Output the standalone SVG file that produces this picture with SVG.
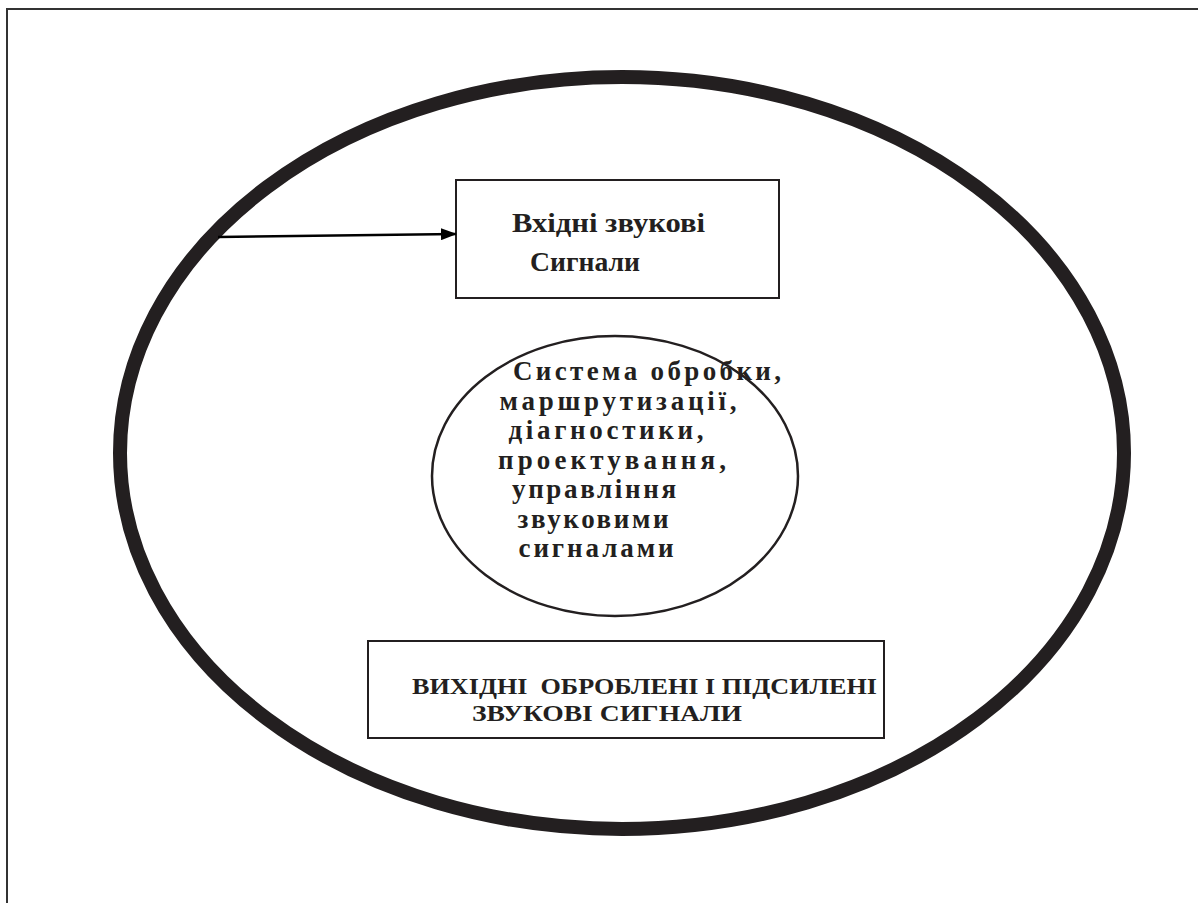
<svg xmlns="http://www.w3.org/2000/svg" width="1198" height="903" viewBox="0 0 1198 903">
<style>
.t{font-family:"Liberation Serif","Times New Roman",serif;font-weight:bold;fill:#231f20;}
.b{fill:#fff;stroke:#231f20;stroke-width:2;}
</style>
<defs>
<marker id="ah" markerWidth="16" markerHeight="12" refX="15" refY="6" orient="auto" markerUnits="userSpaceOnUse">
<path d="M0,0 L16,6 L0,12 Z" fill="#000"/>
</marker>
</defs>
<rect width="1198" height="903" fill="#fff"/>
<g id="frame">
<line x1="6" y1="9" x2="1198" y2="9" stroke="#333" stroke-width="2"/>
<line x1="7" y1="8" x2="7" y2="903" stroke="#333" stroke-width="2"/>
</g>
<g id="outer">
<ellipse cx="622" cy="453" rx="502" ry="376" fill="none" stroke="#231f20" stroke-width="14"/>
</g>
<g id="input">
<rect class="b" x="456" y="180" width="323" height="118"/>
<text class="t" font-size="27" x="512" y="232" textLength="193" lengthAdjust="spacingAndGlyphs">Вхідні звукові</text>
<text class="t" font-size="27" x="530" y="271" textLength="110" lengthAdjust="spacingAndGlyphs">Сигнали</text>
</g>
<g id="system">
<ellipse cx="615" cy="476" rx="183" ry="140" fill="#fff" stroke="#231f20" stroke-width="2.5"/>
<g class="t" font-size="27" text-anchor="middle">
<text x="647" y="380" textLength="268" lengthAdjust="spacing">Система обробки,</text>
<text x="618" y="410" textLength="237" lengthAdjust="spacing">маршрутизації,</text>
<text x="606" y="439" textLength="195" lengthAdjust="spacing">діагностики,</text>
<text x="612" y="469" textLength="228" lengthAdjust="spacing">проектування,</text>
<text x="594" y="498" textLength="164" lengthAdjust="spacing">управління</text>
<text x="593" y="528" textLength="151" lengthAdjust="spacing">звуковими</text>
<text x="596" y="557" textLength="155" lengthAdjust="spacing">сигналами</text>
</g>
</g>
<g id="output">
<rect class="b" x="368" y="641" width="516" height="97"/>
<text class="t" font-size="24" x="412" y="694" textLength="465" lengthAdjust="spacingAndGlyphs" xml:space="preserve">ВИХІДНІ  ОБРОБЛЕНІ І ПІДСИЛЕНІ</text>
<text class="t" font-size="24" x="472" y="721" textLength="270" lengthAdjust="spacingAndGlyphs">ЗВУКОВІ СИГНАЛИ</text>
</g>
<g id="connectors">
<line x1="218" y1="237" x2="456" y2="234" stroke="#000" stroke-width="2.5" marker-end="url(#ah)"/>
</g>
</svg>
